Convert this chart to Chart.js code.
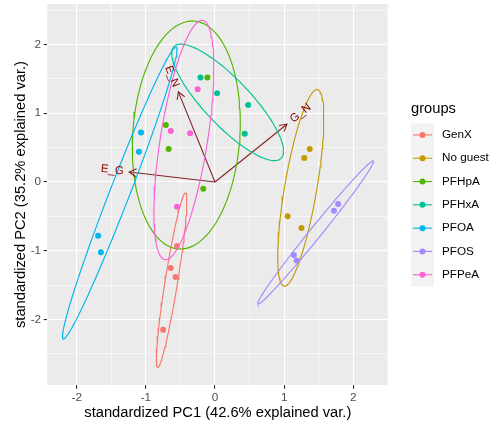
<!DOCTYPE html>
<html><head><meta charset="utf-8">
<script src="https://cdn.jsdelivr.net/npm/chart.js"></script>
<style>html,body{margin:0;padding:0;background:#fff}#wrap{width:495px;height:429px;position:relative}</style>
</head><body><div id="wrap"><canvas id="c" width="495" height="429"></canvas></div>
<script>
// ---- data ----
const groups = ['GenX', 'No guest', 'PFHpA', 'PFHxA', 'PFOA', 'PFOS', 'PFPeA'];
const groupColors = ['#F8766D', '#C49A00', '#53B400', '#00C094', '#00B6EB', '#A58AFF', '#FB61D7'];

const genxPC1 = [-0.55, -0.64, -0.57, -0.75];
const genxPC2 = [-0.93, -1.25, -1.38, -2.15];
const noguestPC1 = [1.37, 1.29, 1.05, 1.25];
const noguestPC2 = [0.48, 0.35, -0.50, -0.67];
const pfhpaPC1 = [-0.71, -0.67, -0.17, -0.11];
const pfhpaPC2 = [0.83, 0.48, -0.10, 1.52];
const pfhxaPC1 = [-0.21, 0.03, 0.48, 0.43];
const pfhxaPC2 = [1.52, 1.29, 1.12, 0.70];
const pfoaPC1 = [-1.07, -1.10, -1.69, -1.65];
const pfoaPC2 = [0.72, 0.44, -0.78, -1.02];
const pfosPC1 = [1.78, 1.72, 1.14, 1.18];
const pfosPC2 = [-0.32, -0.42, -1.06, -1.14];
const pfpeaPC1 = [-0.25, -0.64, -0.36, -0.55];
const pfpeaPC2 = [1.35, 0.74, 0.71, -0.36];

const groupPC1 = [genxPC1, noguestPC1, pfhpaPC1, pfhxaPC1, pfoaPC1, pfosPC1, pfpeaPC1];
const groupPC2 = [genxPC2, noguestPC2, pfhpaPC2, pfhxaPC2, pfoaPC2, pfosPC2, pfpeaPC2];

const varNames = ['E_G', 'E_N', 'G_N'];
const varPC1 = [-1.24, -0.53, 1.04];
const varPC2 = [0.145, 1.31, 0.84];

const xTickLabels = [-2, -1, 0, 1, 2];
const yTickLabels = [-2, -1, 0, 1, 2];
const xTitle = 'standardized PC1 (42.6% explained var.)';
const yTitle = 'standardized PC2 (35.2% explained var.)';
const legendTitle = 'groups';
const ellipseProb = 0.95;

// ---- helpers ----
function dataEllipse(xs, ys) {
  const n = xs.length;
  const mx = xs.reduce((a, b) => a + b, 0) / n;
  const my = ys.reduce((a, b) => a + b, 0) / n;
  let sxx = 0, syy = 0, sxy = 0;
  for (let i = 0; i < n; i++) {
    sxx += (xs[i] - mx) ** 2; syy += (ys[i] - my) ** 2; sxy += (xs[i] - mx) * (ys[i] - my);
  }
  sxx /= (n - 1); syy /= (n - 1); sxy /= (n - 1);
  const r11 = Math.sqrt(sxx), r12 = sxy / r11, r22 = Math.sqrt(Math.max(syy - r12 * r12, 0));
  const ed = Math.sqrt(-2 * Math.log(1 - ellipseProb));
  const pts = [];
  const N = 100;
  for (let k = 0; k <= N; k++) {
    const t = -Math.PI + 2 * Math.PI * k / N;
    const c = Math.cos(t), s = Math.sin(t);
    pts.push({ x: mx + ed * c * r11, y: my + ed * (c * r12 + s * r22) });
  }
  return pts;
}

const FONT = '"Liberation Sans", Arial, Helvetica, sans-serif';
const datasets = [];
// arrows (bottom)
varNames.forEach((v, i) => {
  datasets.push({
    label: 'arrow ' + v, data: [{ x: 0, y: 0 }, { x: varPC1[i], y: varPC2[i] }],
    showLine: true, borderColor: '#832424', borderWidth: 1.1, pointRadius: 0, fill: false, order: 100
  });
});
// points
groups.forEach((g, i) => {
  datasets.push({
    label: g, data: groupPC1[i].map((x, j) => ({ x, y: groupPC2[i][j] })),
    showLine: false, pointRadius: 3, pointBorderWidth: 0, backgroundColor: groupColors[i],
    borderColor: groupColors[i], order: 80 - i
  });
});
// ellipses
groups.forEach((g, i) => {
  datasets.push({
    label: g + ' ellipse', data: dataEllipse(groupPC1[i], groupPC2[i]),
    showLine: true, pointRadius: 0, borderColor: groupColors[i], borderWidth: 1.15,
    fill: false, tension: 0, order: 40 - i
  });
});

const isMajor = v => Math.abs(v - Math.round(v)) < 1e-9;

const overlay = {
  id: 'overlay',
  afterDatasetsDraw(chart) {
    const { ctx, scales: { x, y } } = chart;
    ctx.save();
    // arrow heads
    ctx.strokeStyle = '#832424'; ctx.lineWidth = 1.1;
    varNames.forEach((v, i) => {
      const x0 = x.getPixelForValue(0), y0 = y.getPixelForValue(0);
      const x1 = x.getPixelForValue(varPC1[i]), y1 = y.getPixelForValue(varPC2[i]);
      const a = Math.atan2(y1 - y0, x1 - x0);
      const L = 8, h = Math.PI / 6;
      ctx.beginPath();
      ctx.moveTo(x1 - L * Math.cos(a - h), y1 - L * Math.sin(a - h));
      ctx.lineTo(x1, y1);
      ctx.lineTo(x1 - L * Math.cos(a + h), y1 - L * Math.sin(a + h));
      ctx.stroke();
    });
    // variable labels
    ctx.fillStyle = '#8B0000';
    ctx.font = '11.4px ' + FONT;
    ctx.textBaseline = 'middle';
    ctx.textAlign = 'left';
    varNames.forEach((v, i) => {
      const px = x.getPixelForValue(varPC1[i]), py = y.getPixelForValue(varPC2[i]);
      const ang = Math.atan(varPC2[i] / varPC1[i]);
      const hj = (1 - 1.5 * Math.sign(varPC1[i])) / 2;
      const w = ctx.measureText(v).width;
      ctx.save();
      ctx.translate(px, py);
      ctx.rotate(-ang);
      ctx.fillText(v, -hj * w, 0);
      ctx.restore();
    });
    ctx.restore();
  },
  afterDraw(chart) {
    const { ctx } = chart;
    ctx.save();
    ctx.fillStyle = '#000';
    ctx.font = '14.7px ' + FONT;
    ctx.textBaseline = 'alphabetic';
    ctx.textAlign = 'left';
    ctx.fillText(legendTitle, 411, 113.3);
    const top = 123.3, step = 23.3;
    groups.forEach((g, i) => {
      const cy = top + step * i + step / 2;
      ctx.fillStyle = '#F2F2F2';
      ctx.fillRect(411, top + step * i, 23, step);
      ctx.strokeStyle = groupColors[i]; ctx.lineWidth = 1.1;
      ctx.beginPath(); ctx.moveTo(413, cy); ctx.lineTo(432, cy); ctx.stroke();
      ctx.fillStyle = groupColors[i];
      ctx.beginPath(); ctx.arc(422.5, cy, 3, 0, Math.PI * 2); ctx.fill();
      ctx.fillStyle = '#000';
      ctx.font = '11.7px ' + FONT;
      ctx.textBaseline = 'middle';
      ctx.fillText(g, 442, cy);
    });
    ctx.restore();
  }
};

const bgPlugin = {
  id: 'panelbg',
  beforeDraw(chart) {
    const { ctx, chartArea: a } = chart;
    ctx.save();
    ctx.fillStyle = '#EBEBEB';
    ctx.fillRect(a.left, a.top, a.right - a.left, a.bottom - a.top);
    ctx.restore();
  }
};

function axisCommon(labels) {
  return {
    type: 'linear',
    border: { display: false },
    grid: {
      color: '#FFFFFF',
      lineWidth: c => (c.tick && isMajor(c.tick.value)) ? 1.1 : 0.55,
      tickColor: c => (c.tick && isMajor(c.tick.value)) ? '#333333' : 'rgba(0,0,0,0)',
      tickLength: 3.7, tickWidth: 1.1, drawTicks: true, drawOnChartArea: true
    },
    ticks: {
      autoSkip: false, maxRotation: 0, color: '#4D4D4D',
      font: { size: 11.7, family: FONT },
      callback: v => (isMajor(v) && labels.includes(Math.round(v))) ? String(Math.round(v)) : ''
    }
  };
}

const xAxis = Object.assign(axisCommon(xTickLabels), {
  min: -2.425, max: 2.506,
  afterBuildTicks: s => { s.ticks = [-2, -1.5, -1, -0.5, 0, 0.5, 1, 1.5, 2, 2.5].map(v => ({ value: v })); },
  afterFit: s => { s.height = 44; s.paddingLeft = 0; s.paddingRight = 0; },
  title: { display: true, text: xTitle, color: '#000', font: { size: 14.7, family: FONT }, padding: { top: 0, bottom: 7.2 } }
});
xAxis.ticks.padding = 2;
const yAxis = Object.assign(axisCommon(yTickLabels), {
  min: -2.952, max: 2.588,
  afterBuildTicks: s => { s.ticks = [-2.5, -2, -1.5, -1, -0.5, 0, 0.5, 1, 1.5, 2, 2.5].map(v => ({ value: v })); },
  afterFit: s => { s.width = 47.3; s.paddingTop = 0; s.paddingBottom = 0; },
  title: { display: true, text: yTitle, color: '#000', font: { size: 14.7, family: FONT }, padding: { top: 12, bottom: 0 } }
});
yAxis.ticks.padding = 2.5;

new Chart(document.getElementById('c'), {
  type: 'scatter',
  data: { datasets },
  options: {
    responsive: false, animation: false, devicePixelRatio: 1,
    events: [],
    layout: { padding: { left: 0, top: 2.7, right: 106.7, bottom: 0 } },
    plugins: { legend: { display: false }, tooltip: { enabled: false } },
    scales: { x: xAxis, y: yAxis }
  },
  plugins: [bgPlugin, overlay]
});
</script></body></html>
